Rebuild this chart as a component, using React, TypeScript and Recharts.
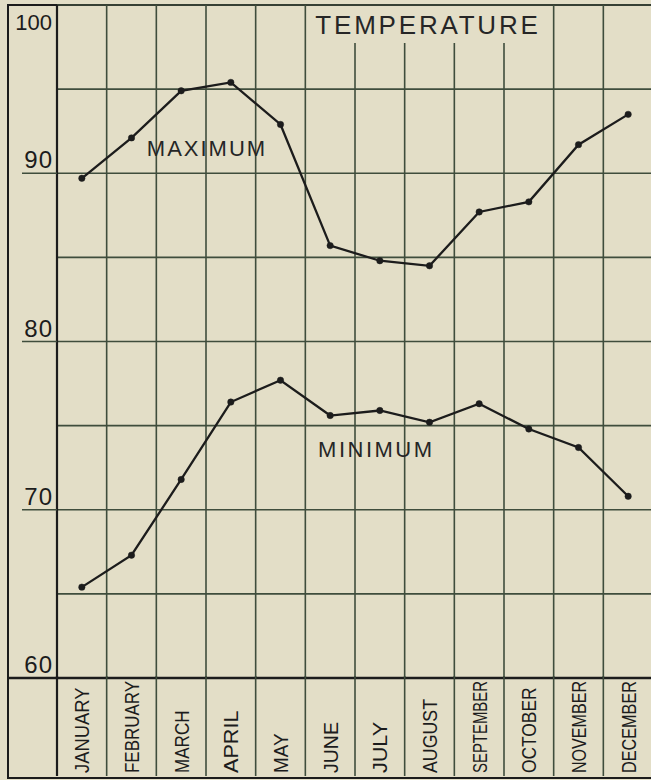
import React from 'react';
import {
  LineChart,
  Line,
  XAxis,
  YAxis,
  CartesianGrid,
  ReferenceLine,
  ReferenceDot,
} from 'recharts';

// ---- data ----
const months = [
  'JANUARY', 'FEBRUARY', 'MARCH', 'APRIL', 'MAY', 'JUNE',
  'JULY', 'AUGUST', 'SEPTEMBER', 'OCTOBER', 'NOVEMBER', 'DECEMBER',
];
const maximum = [89.7, 92.1, 94.9, 95.4, 92.9, 85.7, 84.8, 84.5, 87.7, 88.3, 91.7, 93.5];
const minimum = [65.4, 67.3, 71.8, 76.4, 77.7, 75.6, 75.9, 75.2, 76.3, 74.8, 73.7, 70.8];
const yTicks = [60, 65, 70, 75, 80, 85, 90, 95, 100];
const yLabels = [60, 70, 80, 90, 100];
const columnEdges = [0, 1, 2, 3, 4, 5, 6, 7, 8, 9, 10, 11, 12];
const monthCenters = months.map((_, i) => i + 0.5);
const title = 'TEMPERATURE';
const titleBox = { x1: 5, x2: 10, yBottom: 97.74 };
const maxLabel = 'MAXIMUM';
const minLabel = 'MINIMUM';

const data = months.map((m, i) => ({ x: monthCenters[i], month: m, max: maximum[i], min: minimum[i] }));
const xTicks = [...columnEdges, ...monthCenters].sort((a, b) => a - b);

// ---- style ----
const BG = '#e3dec7';
const GRID = '#3f4d3c';
const INK = '#1c1c1c';
const FONT = "'Liberation Sans', Arial, sans-serif";

const W = 653;
const H = 780;

const XTick = (props: any) => {
  const { x, y, payload } = props;
  const v = payload.value as number;
  if (Number.isInteger(v)) {
    return (
      <line
        x1={x}
        x2={x}
        y1={y - 2}
        y2={776}
        stroke={v === 0 ? INK : GRID}
        strokeWidth={v === 0 ? 2.2 : 1.6}
      />
    );
  }
  const label = months[Math.floor(v)];
  const len = Math.min(label.length * 11.5 + 5, 92);
  return (
    <text
      transform={`translate(${x + 7.5},773) rotate(-90)`}
      fontFamily={FONT}
      fontSize={21}
      fill={INK}
      textAnchor="start"
      textLength={len}
      lengthAdjust="spacingAndGlyphs"
    >
      {label}
    </text>
  );
};

const YTick = (props: any) => {
  const { x, y, payload } = props;
  const v = payload.value as number;
  if (!yLabels.includes(v)) return <g />;
  if (v === 100) {
    return (
      <text x={x - 5} y={y + 25} textAnchor="end" fontFamily={FONT} fontSize={22} fill={INK}>
        {v}
      </text>
    );
  }
  const lineStart = v === 60 ? 8 : x - 35;
  return (
    <g>
      <line x1={lineStart} x2={x} y1={y} y2={y} stroke={v === 60 ? INK : GRID} strokeWidth={v === 60 ? 2.4 : 1.6} />
      <text x={x - 4} y={y - 5} textAnchor="end" fontFamily={FONT} fontSize={24} fill={INK} letterSpacing={1}>
        {v}
      </text>
    </g>
  );
};

const makeTextShape = (text: string, size: number, spacing: number) => (p: any) => (
  <text
    x={p.cx}
    y={p.cy}
    textAnchor="middle"
    dominantBaseline="central"
    fontFamily={FONT}
    fontSize={size}
    letterSpacing={spacing}
    fill="#262626"
  >
    {text}
  </text>
);

export default function App() {
  return (
    <div
      style={{
        position: 'absolute',
        left: 0,
        top: 0,
        width: 651,
        height: 780,
        background: BG,
        overflow: 'hidden',
      }}
    >
      <div
        style={{
          position: 'absolute',
          left: 7,
          top: 4,
          width: 700,
          height: 771,
          borderLeft: `2px solid ${INK}`,
          borderTop: `2px solid ${INK}`,
          borderBottom: `2px solid ${INK}`,
        }}
      />
      <div style={{ position: 'absolute', left: 0, top: 0 }}>
        <LineChart width={W} height={H} data={data} margin={{ top: 5, right: 0, bottom: 0, left: 0 }}>
          <CartesianGrid vertical={false} stroke={GRID} strokeWidth={1.6} />
          <XAxis
            dataKey="x"
            type="number"
            domain={[0, 12]}
            ticks={xTicks}
            interval={0}
            height={102}
            axisLine={false}
            tickLine={false}
            tickSize={0}
            tickMargin={0}
            tick={<XTick />}
          />
          <YAxis
            type="number"
            domain={[60, 100]}
            ticks={yTicks}
            interval={0}
            width={57}
            axisLine={false}
            tickLine={false}
            tickSize={0}
            tickMargin={0}
            tick={<YTick />}
          />
          {columnEdges.map((e) =>
            e > titleBox.x1 && e < titleBox.x2 ? (
              <ReferenceLine
                key={`edge-${e}`}
                segment={[
                  { x: e, y: 60 },
                  { x: e, y: titleBox.yBottom },
                ]}
                stroke={GRID}
                strokeWidth={1.6}
              />
            ) : (
              <ReferenceLine
                key={`edge-${e}`}
                x={e}
                stroke={e === 0 ? INK : GRID}
                strokeWidth={e === 0 ? 2.2 : 1.6}
              />
            )
          )}
          <ReferenceLine y={60} stroke={INK} strokeWidth={2.4} />
          <ReferenceDot x={7.47} y={98.8} r={0} shape={makeTextShape(title, 26, 2.8)} />
          <ReferenceDot x={3.02} y={91.5} r={0} shape={makeTextShape(maxLabel, 22, 2)} />
          <ReferenceDot x={6.43} y={73.6} r={0} shape={makeTextShape(minLabel, 22, 2.5)} />
          <Line
            type="linear"
            dataKey="max"
            stroke={INK}
            strokeWidth={2.3}
            dot={{ r: 3.2, fill: INK, stroke: INK, strokeWidth: 0.5 }}
            isAnimationActive={false}
          />
          <Line
            type="linear"
            dataKey="min"
            stroke={INK}
            strokeWidth={2.3}
            dot={{ r: 3.2, fill: INK, stroke: INK, strokeWidth: 0.5 }}
            isAnimationActive={false}
          />
        </LineChart>
      </div>
    </div>
  );
}
